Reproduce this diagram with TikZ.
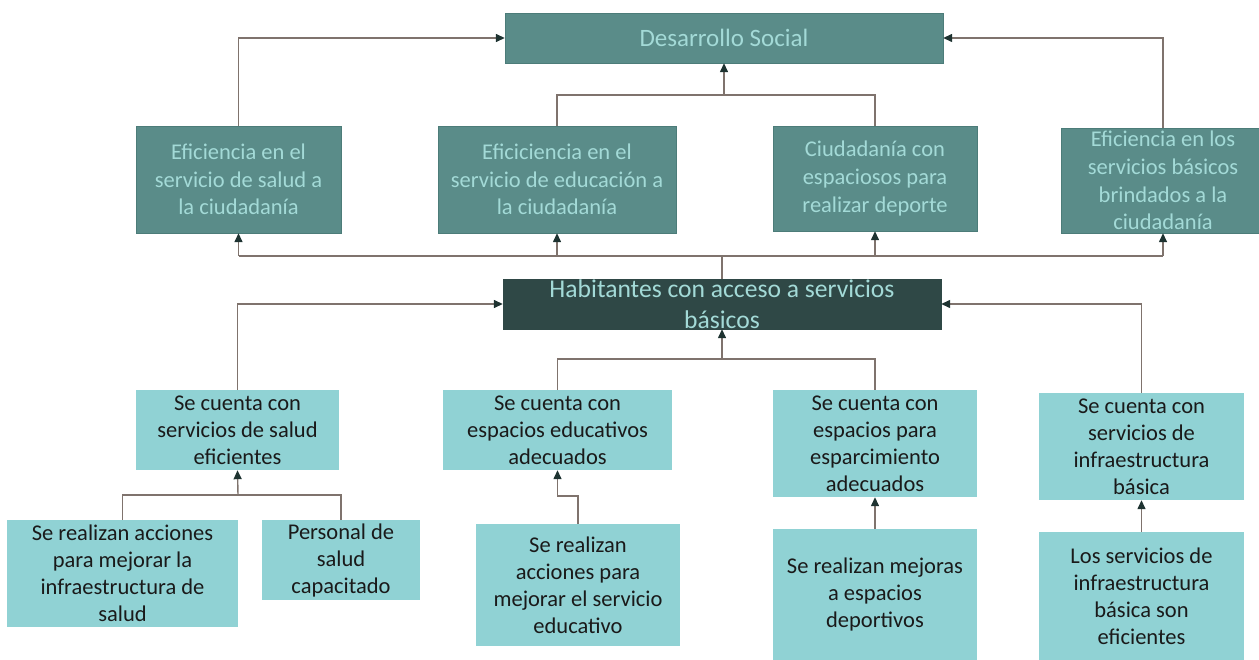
\documentclass[tikz,border=0pt]{standalone}
\usepackage{fontspec}
\setmainfont{Carlito}
\usetikzlibrary{arrows.meta}
\definecolor{effill}{HTML}{5A8C89}
\definecolor{efbord}{HTML}{4C7C79}
\definecolor{eftxt}{HTML}{A3DAD7}
\definecolor{habfill}{HTML}{2F4846}
\definecolor{medfill}{HTML}{90D2D4}
\definecolor{medtxt}{HTML}{1A1A1A}
\definecolor{lnk}{HTML}{7F736D}
\definecolor{tipc}{HTML}{1E3331}

\begin{document}
\begin{tikzpicture}[x=1pt,y=-1pt,
    caja/.style={align=center,inner sep=0pt},
    efecto/.style={caja,draw=efbord,fill=effill,text=eftxt,
      font=\fontsize{22.5}{27.7}\selectfont},
    medio/.style={caja,fill=medfill,text=medtxt,
      font=\fontsize{22.5}{27}\selectfont},
    enlace/.style={draw=lnk,line width=1.4pt},
    flecha/.style={enlace,-{Triangle[length=9pt,width=8pt,color=tipc]}}]
  \useasboundingbox (0,0) rectangle (1259,660);

  % fin
  \node[efecto,minimum width=438,minimum height=50,
    font=\fontsize{25}{30}\selectfont] (des) at (724,38) {Desarrollo Social};

  % efectos
  \node[efecto,minimum width=205,minimum height=107] (e1) at (238.5,179.5)
    {Eficiencia en el\\servicio de salud a\\la ciudadanía};
  \node[efecto,minimum width=238,minimum height=107] (e2) at (557,179.5)
    {Eficiciencia en el\\servicio de educación a\\la ciudadanía};
  \node[efecto,minimum width=204,minimum height=105] (e3) at (875,178.5)
    {Ciudadanía con\\espaciosos para\\realizar deporte};
  \node[efecto,minimum width=204,minimum height=105] (e4) at (1163,180.5)
    {Eficiencia en los\\servicios básicos\\brindados a la\\ciudadanía};

  % proposito
  \node[efecto,fill=habfill,draw=habfill,minimum width=438,minimum height=50,
    font=\fontsize{25.6}{31}\selectfont] (hab) at (722,304)
    {Habitantes con acceso a servicios\\básicos};

  % medios
  \node[medio,minimum width=203,minimum height=80] (m1) at (237.5,430)
    {Se cuenta con\\servicios de salud\\eficientes};
  \node[medio,minimum width=229,minimum height=80] (m2) at (557.5,430)
    {Se cuenta con\\espacios educativos\\adecuados};
  \node[medio,minimum width=204,minimum height=107] (m3) at (875,443.5)
    {Se cuenta con\\espacios para\\esparcimiento\\adecuados};
  \node[medio,minimum width=205,minimum height=107] (m4) at (1141.5,446.5)
    {Se cuenta con\\servicios de\\infraestructura\\básica};

  % acciones
  \node[medio,minimum width=231,minimum height=107] (a1) at (122.5,573.5)
    {Se realizan acciones\\para mejorar la\\infraestructura de\\salud};
  \node[medio,minimum width=158,minimum height=80] (a2) at (341,560)
    {Personal de\\salud\\capacitado};
  \node[medio,minimum width=204,minimum height=122] (a3) at (578,585)
    {Se realizan\\acciones para\\mejorar el servicio\\educativo};
  \node[medio,minimum width=204,minimum height=131] (a4) at (875,594.5)
    {Se realizan mejoras\\a espacios\\deportivos};
  \node[medio,minimum width=205,minimum height=128] (a5) at (1141.5,596)
    {Los servicios de\\infraestructura\\básica son\\eficientes};

  % efectos -> fin
  \coordinate (je) at (724,95);
  \draw[flecha] (e1.north) |- (des.west);
  \draw[flecha] (e4.north) |- (des.east);
  \draw[enlace] (e2.north) |- (je) -| (e3.north);
  \draw[flecha] (je) -- (des.south);

  % proposito -> efectos
  \coordinate (jh) at (722,256);
  \draw[enlace] (hab.north) -- (jh);
  \draw[enlace] (e1.south |- jh) -- (e4.south |- jh);
  \foreach \n in {e1,e2,e3,e4}
    \draw[flecha] (\n.south |- jh) -- (\n.south);

  % medios -> proposito
  \coordinate (jm) at (722,359);
  \draw[flecha] (m1.north) |- (hab.west);
  \draw[flecha] (m4.north) |- (hab.east);
  \draw[enlace] (m2.north) |- (jm) -| (m3.north);
  \draw[flecha] (jm) -- (hab.south);

  % acciones -> medios
  \coordinate (js) at (238,495);
  \coordinate (jd) at (557.5,496);
  \draw[enlace] (a1.north) |- (js) -| (a2.north);
  \draw[flecha] (js) -- (m1.south);
  \draw[flecha] (a3.north) |- (jd) -- (m2.south);
  \draw[flecha] (a4.north) -- (m3.south);
  \draw[flecha] (a5.north) -- (m4.south);
\end{tikzpicture}
\end{document}
